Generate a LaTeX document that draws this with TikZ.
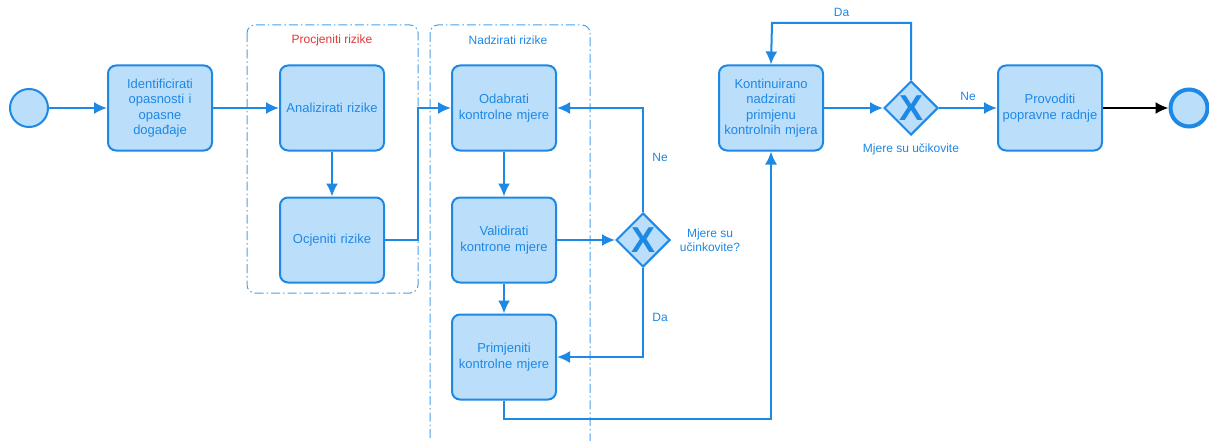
\documentclass[tikz,border=0pt]{standalone}
\usepackage{fontspec}
\setmainfont{Liberation Sans}
\usetikzlibrary{arrows.meta,shapes.geometric}
\definecolor{bpmnline}{RGB}{30,136,229}
\definecolor{bpmnfill}{RGB}{187,222,251}
\definecolor{titlered}{RGB}{224,56,56}
\tikzset{
  task/.style={draw=bpmnline,fill=bpmnfill,line width=2pt,rounded corners=8pt,minimum width=104pt,minimum height=85pt,text width=97pt,align=center,text=bpmnline,font=\fontsize{13}{15.4}\selectfont},
  gate/.style={diamond,draw=bpmnline,fill=bpmnfill,line width=2pt,minimum size=54pt,inner sep=0pt,text=bpmnline,font=\fontsize{36}{36}\selectfont\bfseries},
  event/.style={circle,draw=bpmnline,fill=bpmnfill,minimum size=38pt,inner sep=0pt,line width=2pt},
  flow/.style={color=bpmnline,line width=2pt,-{Latex[length=13pt,width=12pt]}},
  lbl/.style={text=bpmnline,font=\fontsize{12}{14}\selectfont},
  pool/.style={draw=bpmnline!80,line width=1pt,rounded corners=8pt,dash pattern=on 9pt off 3pt on 1.5pt off 3pt}
}
\begin{document}
\begin{tikzpicture}[x=1pt,y=-1pt]
  \useasboundingbox[fill=white] (0,0) rectangle (1209,441);
  % groups
  \draw[pool] (247,25) rectangle (418,293);
  \node[text=titlered,font=\fontsize{12}{14}\selectfont] (procj) at (332,40) {Procjeniti rizike};
  \draw[pool] (430,25) rectangle (590,450);
  \node[lbl] (nadz) at (508,40) {Nadzirati rizike};
  % events and tasks
  \node[event] (start) at (29,108) {};
  \node[task] (ident) at (160,108) {Identificirati\\opasnosti i\\opasne\\događaje};
  \node[task] (anal) at (332,108) {Analizirati rizike};
  \node[task] (ocj) at (332,240) {Ocjeniti rizike};
  \node[task] (odab) at (504,108) {Odabrati\\kontrolne mjere};
  \node[task] (val) at (504,240) {Validirati\\kontrone mjere};
  \node[task] (prim) at (504,357) {Primjeniti\\kontrolne mjere};
  \node[gate] (dia1) at (643,240) {X};
  \node[lbl,align=center] (q1) at (710,240) {Mjere su\\učinkovite?};
  \node[task] (kont) at (771,108) {Kontinuirano\\nadzirati\\primjenu\\kontrolnih mjera};
  \node[gate] (dia2) at (911,108) {X};
  \node[lbl] (q2) at (911,149) {Mjere su učikovite};
  \node[task] (prov) at (1050,108) {Provoditi\\popravne radnje};
  \node[event,line width=4pt,minimum size=37pt] (end) at (1189,108) {};
  % flows
  \draw[flow] (start) -- (ident);
  \draw[flow] (ident) -- (anal);
  \draw[flow] (anal) -- (ocj);
  \draw[flow] (ocj.east) -| (418,108) -- (odab.west);
  \draw[flow] (odab) -- (val);
  \draw[flow] (val) -- (prim);
  \draw[flow] (val) -- (dia1);
  \draw[flow] (dia1.north) |- node[lbl,pos=0.26,right=5pt]{Ne} (odab.east);
  \draw[flow] (dia1.south) |- node[lbl,pos=0.28,right=5pt]{Da} (prim.east);
  \draw[flow] (prim.south) -- ++(0,18) -| (kont.south);
  \draw[flow] (kont) -- (dia2);
  \draw[flow] (dia2.north) -- ++(0,-57) -- node[lbl,above=2pt]{Da} ++(-139,0) -- (kont.north);
  \draw[flow] (dia2) -- node[lbl,above=3pt]{Ne} (prov);
  \draw[flow,color=black] (prov) -- (end);
\end{tikzpicture}
\end{document}
